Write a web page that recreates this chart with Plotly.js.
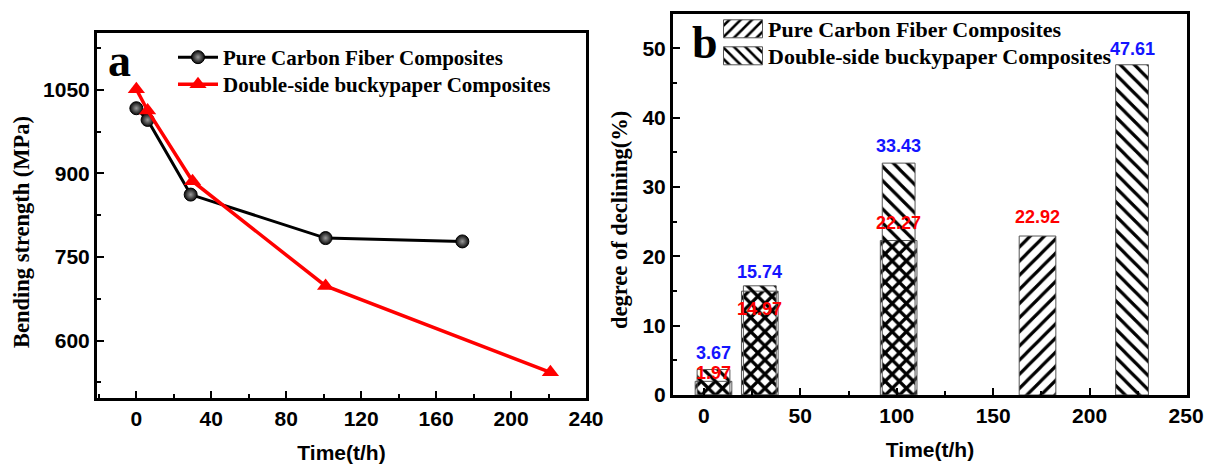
<!DOCTYPE html>
<html><head><meta charset="utf-8">
<script src="https://cdn.plot.ly/plotly-3.0.1.min.js"></script>
<style>html,body{margin:0;padding:0;background:#fff}#chart{width:1206px;height:465px}</style>
</head><body><div id="chart"></div>
<script>
// ---------- Panel a: bending strength vs time ----------
const timePure = [0, 6, 29, 101, 174];
const strengthPure = [1017, 996, 862, 784, 778];
const timeDouble = [0, 6, 30, 101, 221];
const strengthDouble = [1051, 1013, 886, 698, 543];

// ---------- Panel b: degree of declining ----------
const barTimePure = [5, 29, 101, 173];
const declinePure = [1.97, 14.97, 22.27, 22.92];
const barTimeDouble = [5, 29, 101, 222];
const declineDouble = [3.67, 15.74, 33.43, 47.61];

const seriesNames = ['Pure Carbon Fiber Composites', 'Double-side buckypaper Composites'];

// ---------- styling ----------
const SERIF = '"Liberation Serif", "Times New Roman", serif';
const SANS = '"Liberation Sans", Arial, sans-serif';
const W = 1206, H = 465;
const px = v => v / W, py = v => 1 - v / H;

// label nudges (px) for value labels in panel b
const pureLabelShift = [8, -18, 18, 19];
const doubleLabelShift = [17, 14, 17, 16];
const legendRowStep = 27;

const tickFont = {family: SANS, size: 21, weight: 'bold', color: 'black'};
const axisBase = {
  showline: true, mirror: true, linecolor: 'black', linewidth: 3,
  ticks: 'inside', ticklen: 7, tickwidth: 2, tickcolor: 'black',
  showgrid: false, zeroline: false, tickfont: tickFont
};
const minorBase = {ticks: 'inside', ticklen: 4, tickwidth: 2, tickcolor: 'black', showgrid: false};

const traces = [
  {
    x: timePure, y: strengthPure, name: seriesNames[0], type: 'scatter', mode: 'lines+markers',
    xaxis: 'x', yaxis: 'y', legend: 'legend',
    line: {color: 'black', width: 3},
    marker: {symbol: 'circle', size: 13, color: '#0a0a0a',
             gradient: {type: 'radial', color: '#9a9a9a'}, line: {color: 'black', width: 1}}
  },
  {
    x: timeDouble, y: strengthDouble, name: seriesNames[1], type: 'scatter', mode: 'lines+markers',
    xaxis: 'x', yaxis: 'y', legend: 'legend',
    line: {color: '#ff0000', width: 3.5},
    marker: {symbol: 'triangle-up', size: 15, color: '#ff0000'}
  },
  {
    x: barTimePure, y: declinePure, name: seriesNames[0], type: 'bar', width: 19,
    xaxis: 'x2', yaxis: 'y2', legend: 'legend2',
    marker: {color: 'black', line: {color: '#555', width: 1},
             pattern: {shape: '/', size: 10, solidity: 0.32, fillmode: 'replace'}}
  },
  {
    x: barTimeDouble, y: declineDouble, name: seriesNames[1], type: 'bar', width: 17,
    xaxis: 'x2', yaxis: 'y2', legend: 'legend2',
    marker: {color: 'black', line: {color: '#555', width: 1},
             pattern: {shape: '\\', size: 10, solidity: 0.32, fillmode: 'replace'}}
  }
];

const annotations = [
  {text: 'a', xref: 'paper', yref: 'paper', x: px(106), y: py(60), xanchor: 'left', yanchor: 'middle',
   showarrow: false, font: {family: SERIF, size: 46, weight: 'bold', color: 'black'}},
  {text: 'b', xref: 'paper', yref: 'paper', x: px(690), y: py(42), xanchor: 'left', yanchor: 'middle',
   showarrow: false, font: {family: SERIF, size: 46, weight: 'bold', color: 'black'}},
  // y-axis titles
  {text: 'Bending strength (MPa)', xref: 'paper', yref: 'paper', x: px(21), y: py(232),
   xanchor: 'center', yanchor: 'middle', textangle: -90, showarrow: false,
   font: {family: SERIF, size: 22.5, weight: 'bold', color: 'black'}},
  {text: 'degree of declining(%)', xref: 'paper', yref: 'paper', x: px(619), y: py(220),
   xanchor: 'center', yanchor: 'middle', textangle: -90, showarrow: false,
   font: {family: SERIF, size: 22.5, weight: 'bold', color: 'black'}}
];
declinePure.forEach((v, i) => annotations.push({
  text: v.toFixed(2), xref: 'x2', yref: 'y2', x: barTimePure[i], y: v, yshift: pureLabelShift[i],
  yanchor: 'middle', showarrow: false, font: {family: SANS, size: 18, weight: 'bold', color: '#ff0000'}
}));
declineDouble.forEach((v, i) => annotations.push({
  text: v.toFixed(2), xref: 'x2', yref: 'y2', x: barTimeDouble[i], y: v, yshift: doubleLabelShift[i],
  yanchor: 'middle', showarrow: false, font: {family: SANS, size: 18, weight: 'bold', color: '#1414ff'}
}));

const xTitleFont = {family: SANS, size: 21, weight: 'bold', color: 'black'};
const layout = {
  width: W, height: H, margin: {l: 0, r: 0, t: 0, b: 0},
  paper_bgcolor: 'white', plot_bgcolor: 'white',
  barmode: 'overlay', bargap: 0,
  xaxis: Object.assign({}, axisBase, {
    domain: [px(97), px(586)], range: [-21, 240], tick0: 0, dtick: 40, anchor: 'y',
    minor: Object.assign({dtick: 20}, minorBase),
    title: {text: 'Time(t/h)', font: xTitleFont, standoff: 17}
  }),
  yaxis: Object.assign({}, axisBase, {
    domain: [py(398), py(33)], range: [497, 1152], tick0: 0, dtick: 150, anchor: 'x',
    minor: Object.assign({dtick: 75}, minorBase)
  }),
  xaxis2: Object.assign({}, axisBase, {
    domain: [px(673), px(1187)], range: [-16, 250.5], tick0: 0, dtick: 50, anchor: 'y2',
    minor: Object.assign({dtick: 25}, minorBase),
    title: {text: 'Time(t/h)', font: xTitleFont, standoff: 17}
  }),
  yaxis2: Object.assign({}, axisBase, {
    domain: [py(395), py(13.5)], range: [0, 55], tick0: 0, dtick: 10, anchor: 'x2',
    minor: Object.assign({dtick: 5}, minorBase)
  }),
  legend: {x: px(173), y: py(37), xanchor: 'left', yanchor: 'top', bgcolor: 'rgba(0,0,0,0)',
           itemwidth: 40, tracegroupgap: 0,
           font: {family: SERIF, size: 21, weight: 'bold', color: 'black'}},
  legend2: {x: px(718), y: py(8), xanchor: 'left', yanchor: 'top', bgcolor: 'rgba(0,0,0,0)',
            itemwidth: 40, tracegroupgap: 0,
            font: {family: SERIF, size: 22, weight: 'bold', color: 'black'}},
  annotations: annotations,
  showlegend: true
};

Plotly.newPlot('chart', traces, layout, {displayModeBar: false, staticPlot: true}).then(gd => {
  // enlarge the hatched legend swatches of panel b
  gd.querySelectorAll('g.legend2 .legendpoints path').forEach(p => {
    p.setAttribute('d', 'M19.5,9H-19.5V-9H19.5Z');
  });
  // tighten legend row spacing to match the figure
  ['g.legend', 'g.legend2'].forEach(sel => {
    const items = gd.querySelectorAll(sel + ' g.traces');
    let y0 = null, x0 = 0;
    items.forEach((it, i) => {
      const m = /translate\(\s*([-\d.e]+)[\s,]+([-\d.e]+)\s*\)/.exec(it.getAttribute('transform') || '');
      if (!m) return;
      if (y0 === null) { x0 = parseFloat(m[1]); y0 = parseFloat(m[2]); }
      it.setAttribute('transform', 'translate(' + m[1] + ',' + (y0 + i * legendRowStep) + ')');
    });
  });
});
</script>
</body></html>
